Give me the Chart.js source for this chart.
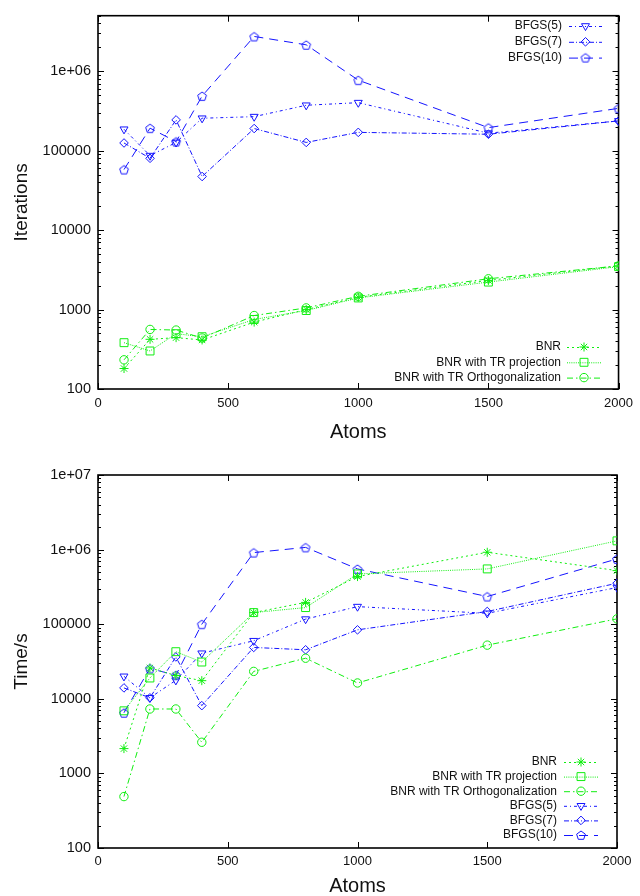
<!DOCTYPE html>
<html><head><meta charset="utf-8">
<script src="https://cdn.jsdelivr.net/npm/chart.js@4.4.0/dist/chart.umd.min.js"></script>
<style>
html,body{margin:0;padding:0;background:#fff;}
#wrap{position:relative;width:640px;height:896px;overflow:hidden;}
.c{position:absolute;left:0;width:640px;height:448px;}
</style></head><body>
<div id="wrap">
<div class="c" style="top:0"><canvas id="c1" width="640" height="448"></canvas></div>
<div class="c" style="top:448px"><canvas id="c2" width="640" height="448"></canvas></div>
</div>
<script>
// ---- data ----
const atoms = [100, 200, 300, 400, 600, 800, 1000, 1500, 2000];
const xTicks = [0, 500, 1000, 1500, 2000];

// Iterations (top chart)
const bnrIter      = [181, 422, 443, 414, 695, 1000, 1426, 2326, 3548];
const bnrProjIter  = [383, 301, 497, 455, 750, 972, 1400, 2218, 3470];
const bnrOrthIter  = [233, 562, 552, 438, 841, 1049, 1468, 2441, 3548];
const bfgs5Iter    = [186000, 86600, 127000, 256000, 268000, 373000, 402000, 166000, 237000];
const bfgs7Iter    = [125000, 80200, 244000, 47300, 190000, 127000, 170000, 161000, 237000];
const bfgs10Iter   = [57900, 192000, 130000, 487000, 2740000, 2150000, 772000, 195000, 341000];
const yTicksIter   = [100, 1000, 10000, 100000, 1000000];
const yLabelsIter  = ['100', '1000', '10000', '100000', '1e+06'];

// Time (bottom chart)
const bnrTime      = [2150, 25900, 20500, 17500, 143000, 196000, 435000, 921000, 523000];
const bnrProjTime  = [6900, 19000, 42800, 31100, 143000, 167000, 472000, 551000, 1310000];
const bnrOrthTime  = [489, 7300, 7300, 2615, 23300, 35000, 16300, 52400, 118000];
const bfgs5Time    = [20000, 10300, 17700, 40800, 60000, 117000, 172000, 140000, 310000];
const bfgs7Time    = [14000, 10300, 36400, 8100, 48800, 45400, 84000, 148000, 354000];
const bfgs10Time   = [6500, 25500, 20700, 100000, 912000, 1070000, 551000, 235000, 750000];
const yTicksTime   = [100, 1000, 10000, 100000, 1000000, 10000000];
const yLabelsTime  = ['100', '1000', '10000', '100000', '1e+06', '1e+07'];

const seriesNames = ['BNR', 'BNR with TR projection', 'BNR with TR Orthogonalization', 'BFGS(5)', 'BFGS(7)', 'BFGS(10)'];

// ---- styles ----
const GREEN = '#10ee10', BLUE = '#1414ff';
const FONT = '"Liberation Sans", Arial, Helvetica, sans-serif';

function makePentagon(color, r) {
  const s = Math.ceil(2 * r + 4);
  const c = document.createElement('canvas');
  c.width = c.height = s;
  const g = c.getContext('2d');
  g.strokeStyle = color; g.lineWidth = 1;
  g.beginPath();
  for (let i = 0; i < 5; i++) {
    const a = -Math.PI / 2 + i * 2 * Math.PI / 5;
    const px = s / 2 + r * Math.cos(a), py = s / 2 + 0.6 + r * Math.sin(a);
    if (i) g.lineTo(px, py); else g.moveTo(px, py);
  }
  g.closePath(); g.stroke();
  return c;
}
const pentagon = makePentagon(BLUE, 4.6);

const styleOf = [
  {color: GREEN, dash: [2, 3],        pointStyle: 'star',     rot: 0,   r: 4.5},
  {color: GREEN, dash: [1, 1.2],      pointStyle: 'rect',     rot: 0,   r: 5.6},
  {color: GREEN, dash: [6, 3, 1.5, 3], pointStyle: 'circle',  rot: 0,   r: 4.2},
  {color: BLUE,  dash: [3, 3, 1, 3],  pointStyle: 'triangle', rot: 180, r: 4.6},
  {color: BLUE,  dash: [5, 2, 1, 2],  pointStyle: 'rectRot',  rot: 0,   r: 4.3},
  {color: BLUE,  dash: [9, 6],        pointStyle: pentagon,   rot: 0,   r: 5}
];

function makeDataset(idx, values) {
  const s = styleOf[idx];
  return {
    label: seriesNames[idx],
    data: atoms.map((a, i) => ({x: a, y: values[i]})),
    borderColor: s.color,
    backgroundColor: 'rgba(0,0,0,0)',
    borderWidth: 1,
    borderDash: s.dash,
    pointStyle: s.pointStyle,
    pointRotation: s.rot,
    pointRadius: s.r,
    pointBorderColor: s.color,
    pointBackgroundColor: 'rgba(0,0,0,0)',
    pointBorderWidth: 1,
    tension: 0,
    fill: false
  };
}

// frame + inward gnuplot-like ticks
const framePlugin = {
  id: 'gpFrame',
  beforeDatasetsDraw(chart) {
    const {ctx, chartArea: a, scales: {x, y}} = chart;
    ctx.save();
    ctx.strokeStyle = '#000';
    ctx.lineWidth = 1;
    ctx.beginPath();
    const maj = 6, mnr = 3;
    x.ticks.forEach(t => {
      const px = Math.round(x.getPixelForValue(t.value)) + 0.5;
      ctx.moveTo(px, a.bottom); ctx.lineTo(px, a.bottom - maj);
      ctx.moveTo(px, a.top); ctx.lineTo(px, a.top + maj);
    });
    y.ticks.forEach(t => {
      const py = Math.round(y.getPixelForValue(t.value)) + 0.5;
      ctx.moveTo(a.left, py); ctx.lineTo(a.left + maj, py);
      ctx.moveTo(a.right, py); ctx.lineTo(a.right - maj, py);
    });
    for (let d = y.min; d < y.max; d *= 10) {
      for (let k = 2; k < 10; k++) {
        const v = k * d;
        if (v > y.max) break;
        const py = Math.round(y.getPixelForValue(v)) + 0.5;
        ctx.moveTo(a.left, py); ctx.lineTo(a.left + mnr, py);
        ctx.moveTo(a.right, py); ctx.lineTo(a.right - mnr, py);
      }
    }
    ctx.stroke();
    ctx.lineWidth = 1.6;
    ctx.strokeRect(a.left, a.top, a.width, a.height);
    ctx.restore();
  }
};

// gnuplot-like key: text right-aligned, then sample line with marker
const keyPlugin = {
  id: 'gpKey',
  afterDatasetsDraw(chart, args, opts) {
    const {ctx} = chart;
    (opts.groups || []).forEach(g => {
      g.items.forEach((di, i) => {
        const ds = chart.data.datasets[di];
        const el = chart.getDatasetMeta(di).data[0];
        const yy = g.y + i * g.dy;
        ctx.save();
        ctx.font = '12px ' + FONT;
        ctx.fillStyle = '#111';
        ctx.textAlign = 'right';
        ctx.textBaseline = 'middle';
        ctx.fillText(ds.label, g.textRight, yy);
        ctx.strokeStyle = ds.borderColor;
        ctx.lineWidth = 1;
        ctx.setLineDash(ds.borderDash || []);
        ctx.beginPath();
        ctx.moveTo(g.x1, yy + 0.5); ctx.lineTo(g.x2, yy + 0.5);
        ctx.stroke();
        ctx.setLineDash([]);
        if (el && Chart.helpers && Chart.helpers.drawPoint) {
          ctx.strokeStyle = el.options.borderColor;
          ctx.fillStyle = 'rgba(0,0,0,0)';
          ctx.lineWidth = 1;
          Chart.helpers.drawPoint(ctx, el.options, (g.x1 + g.x2) / 2, yy);
        }
        ctx.restore();
      });
    });
  }
};

function makeChart(canvasId, datasets, yTicks, yLabels, yMax, yTitle, layout, keyGroups) {
  return new Chart(document.getElementById(canvasId), {
    type: 'line',
    data: {datasets},
    options: {
      responsive: false,
      animation: false,
      events: [],
      layout: {padding: {top: layout.top, right: layout.right, left: 0, bottom: 0}},
      plugins: {
        legend: {display: false},
        tooltip: {enabled: false},
        gpKey: {groups: keyGroups}
      },
      scales: {
        x: {
          type: 'linear',
          min: 0, max: 2000,
          afterBuildTicks: s => { s.ticks = xTicks.map(v => ({value: v})); },
          afterFit: s => { s.height = layout.xh; },
          grid: {display: false, drawTicks: false},
          border: {display: false},
          ticks: {padding: layout.xpad, color: '#111', font: {family: FONT, size: 13}, maxRotation: 0,
                  callback: v => String(v)},
          title: {display: true, text: 'Atoms', color: '#111',
                  font: {family: FONT, size: 20, lineHeight: 1},
                  padding: {top: 0, bottom: layout.titleBottom}}
        },
        y: {
          type: 'logarithmic',
          min: 100, max: yMax,
          afterBuildTicks: s => { s.ticks = yTicks.map(v => ({value: v})); },
          afterFit: s => { s.width = 98; },
          grid: {display: false, drawTicks: false},
          border: {display: false},
          ticks: {padding: 7, color: '#111', font: {family: FONT, size: 14.5},
                  callback: (v, i) => yLabels[yTicks.indexOf(v)] ?? yLabels[i]},
          title: {display: true, text: yTitle, color: '#111',
                  font: {family: FONT, size: 19, lineHeight: 1},
                  padding: {top: 12, bottom: 0}}
        }
      }
    },
    plugins: [framePlugin, keyPlugin]
  });
}

makeChart('c1',
  [makeDataset(3, bfgs5Iter), makeDataset(4, bfgs7Iter), makeDataset(5, bfgs10Iter),
   makeDataset(0, bnrIter), makeDataset(1, bnrProjIter), makeDataset(2, bnrOrthIter)],
  yTicksIter, yLabelsIter, 5000000, 'Iterations',
  {top: 15, right: 20, xh: 59, xpad: 7, titleBottom: 6},
  [{items: [0, 1, 2], y: 26, dy: 15.8, textRight: 562, x1: 569, x2: 602},
   {items: [3, 4, 5], y: 347, dy: 15.3, textRight: 561, x1: 567, x2: 601}]
);

makeChart('c2',
  [makeDataset(0, bnrTime), makeDataset(1, bnrProjTime), makeDataset(2, bnrOrthTime),
   makeDataset(3, bfgs5Time), makeDataset(4, bfgs7Time), makeDataset(5, bfgs10Time)],
  yTicksTime, yLabelsTime, 10000000, 'Time/s',
  {top: 27, right: 23, xh: 48, xpad: 6, titleBottom: 0},
  [{items: [0, 1, 2, 3, 4, 5], y: 314, dy: 14.6, textRight: 557, x1: 564, x2: 598}]
);
</script>
</body></html>
